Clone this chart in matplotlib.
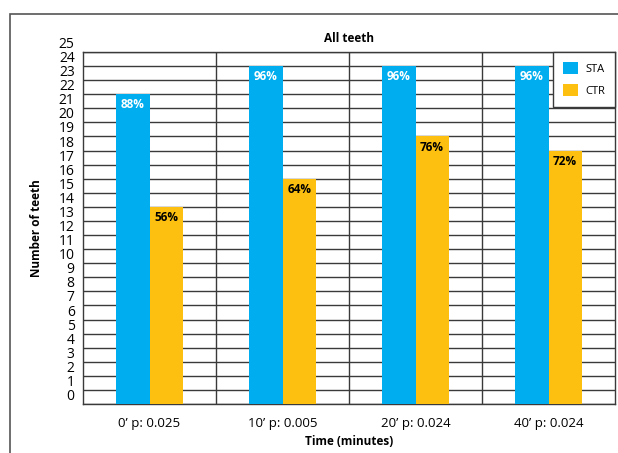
import matplotlib
matplotlib.use("Agg")
import matplotlib.pyplot as plt
from matplotlib.patches import Rectangle
import numpy as np

# teeth counts per time point
times = ["0\u2019 p: 0.025", "10\u2019 p: 0.005", "20\u2019 p: 0.024", "40\u2019 p: 0.024"]
sta = [22, 24, 24, 24]
ctr = [14, 16, 19, 18]
total = 25

blue = "#00AEEF"
gold = "#FDC010"
grid = "#3a3a3a"

plt.rcParams["font.family"] = ["Open Sans", "DejaVu Sans"]

fig = plt.figure(figsize=(6.18, 4.53), dpi=100)
# outer frame around the whole chart
fig.patches.append(Rectangle((10 / 618, -0.1), 1.2, 1 - 14 / 453 + 0.1,
                             transform=fig.transFigure, fill=False,
                             edgecolor="#555555", lw=1.2))

ax = fig.add_axes([83 / 618, 49 / 453, 532 / 618, 352 / 453])
x = np.arange(len(times))
w = 0.25
ax.bar(x - w / 2, sta, w, color=blue, label="STA", zorder=3)
ax.bar(x + w / 2, ctr, w, color=gold, label="CTR", zorder=3)

for i in range(len(times)):
    ax.text(x[i] - w / 2, sta[i] - 0.3, f"{round(sta[i] / total * 100)}%",
            ha="center", va="top", color="white", fontsize=8.5,
            fontweight="bold", zorder=4)
    ax.text(x[i] + w / 2, ctr[i] - 0.3, f"{round(ctr[i] / total * 100)}%",
            ha="center", va="top", color="black", fontsize=8.5,
            fontweight="bold", zorder=4)

ax.set_xlim(-0.5, len(times) - 0.5)
ax.set_ylim(0, 25)
ax.set_yticks(range(0, 26))
ax.set_xticks(x)
ax.set_xticklabels(times, fontsize=9.5)
ax.tick_params(axis="y", length=0, labelsize=10, pad=6)
ax.tick_params(axis="x", length=0, pad=9)
for lbl in ax.get_yticklabels():
    lbl.set_verticalalignment("bottom")

for yv in range(0, 26):
    ax.axhline(yv, color=grid, lw=1, zorder=1)
for xv in np.arange(0.5, len(times) - 0.5):
    ax.axvline(xv, color=grid, lw=1, zorder=1)
for s in ax.spines.values():
    s.set_color(grid)
    s.set_linewidth(1)

ax.set_title("All teeth", fontsize=8.5, fontweight="bold", pad=7)
ax.set_ylabel("Number of teeth", fontsize=8.5, fontweight="bold", labelpad=11)
ax.set_xlabel("Time (minutes)", fontsize=8.5, fontweight="bold", labelpad=4)

leg = ax.legend(loc="upper right", bbox_to_anchor=(1, 1), borderaxespad=0,
                fancybox=False, framealpha=1, edgecolor=grid, fontsize=8,
                handlelength=1.35, handleheight=1.35, handletextpad=0.6,
                labelspacing=0.8, borderpad=0.9)
leg.get_frame().set_linewidth(1)
leg.set_zorder(5)

fig.savefig("out.png", dpi=100)
